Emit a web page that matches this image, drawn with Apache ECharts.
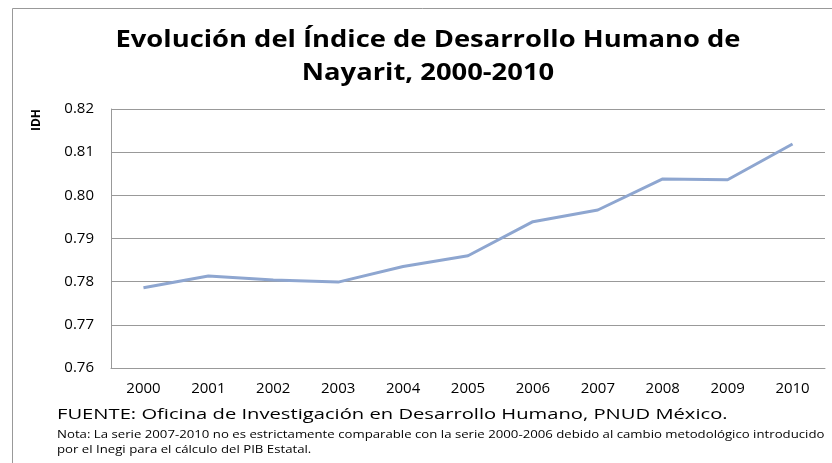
<!DOCTYPE html>
<html lang="es">
<head>
    <meta charset="UTF-8">
    <title>IDH Nayarit</title>
    <script src="https://cdn.jsdelivr.net/npm/echarts@6/dist/echarts.min.js"></script>
    <style>
        html, body { margin: 0; padding: 0; background: #fff; }
        #main { width: 832px; height: 463px; }
    </style>
</head>
<body>
<div id="main"></div>
<script type="text/javascript">
    // datos
    var years = ['2000', '2001', '2002', '2003', '2004', '2005', '2006', '2007', '2008', '2009', '2010'];
    var idh = [0.7786, 0.7813, 0.7804, 0.7799, 0.7835, 0.7860, 0.7939, 0.7966, 0.8038, 0.8036, 0.8119];
    var yTicks = [0.76, 0.77, 0.78, 0.79, 0.80, 0.81, 0.82];

    var titleText = 'Evolución del Índice de Desarrollo Humano de\nNayarit, 2000-2010';
    var fuente = 'FUENTE: Oficina de Investigación en Desarrollo Humano, PNUD México.';
    var nota = 'Nota: La serie 2007-2010 no es estrictamente comparable con la serie 2000-2006 debido al cambio metodológico introducido\npor el Inegi para el cálculo del PIB Estatal.';

    var font = '"Open Sans", "Noto Sans", sans-serif';
    var myChart = echarts.init(document.getElementById('main'));
    myChart.setOption({
        animation: false,
        grid: {
            left: 111,
            right: 7,
            top: 109,
            bottom: 95
        },
        xAxis: {
            type: 'category',
            data: years,
            boundaryGap: true,
            axisLine: { show: true, lineStyle: { color: '#999', width: 1 } },
            axisTick: { show: false },
            axisLabel: {
                margin: 13,
                fontFamily: font,
                fontSize: 15,
                color: '#000'
            }
        },
        yAxis: {
            type: 'value',
            min: yTicks[0],
            max: yTicks[yTicks.length - 1],
            interval: 0.01,
            axisLine: { show: true, lineStyle: { color: '#999', width: 1 } },
            axisTick: { show: false },
            axisLabel: {
                margin: 17,
                fontFamily: font,
                fontSize: 15,
                color: '#000',
                formatter: function (v) { return v.toFixed(2); }
            },
            splitLine: { lineStyle: { color: '#999', width: 1 } }
        },
        series: [{
            name: 'IDH',
            type: 'line',
            data: idh,
            symbol: 'none',
            lineStyle: { color: '#8EA6D0', width: 3 },
            itemStyle: { color: '#8EA6D0' }
        }],
        graphic: [
            {
                // marco del grafico
                type: 'polyline',
                shape: { points: [[12.5, 463], [12.5, 8.5], [832, 8.5]] },
                style: { stroke: '#999', lineWidth: 1, fill: null },
                silent: true
            },
            {
                type: 'text',
                x: 428,
                y: 57,
                scaleX: 1.14,
                style: {
                    text: titleText,
                    fontFamily: font,
                    fontWeight: 'bold',
                    fontSize: 24,
                    lineHeight: 33,
                    align: 'center',
                    verticalAlign: 'middle',
                    fill: '#000'
                }
            },
            {
                type: 'text',
                x: 37,
                y: 120,
                rotation: Math.PI / 2,
                style: {
                    text: 'IDH',
                    fontFamily: font,
                    fontWeight: 'bold',
                    fontSize: 12,
                    align: 'center',
                    verticalAlign: 'middle',
                    fill: '#000'
                }
            },
            {
                type: 'text',
                x: 57,
                y: 415,
                scaleX: 1.345,
                style: {
                    text: fuente,
                    fontFamily: font,
                    fontSize: 15,
                    verticalAlign: 'middle',
                    fill: '#000'
                }
            },
            {
                type: 'text',
                x: 57,
                y: 442.5,
                scaleX: 1.32,
                style: {
                    text: nota,
                    fontFamily: font,
                    fontSize: 10,
                    lineHeight: 15,
                    verticalAlign: 'middle',
                    fill: '#000'
                }
            }
        ]
    });
</script>
</body>
</html>
